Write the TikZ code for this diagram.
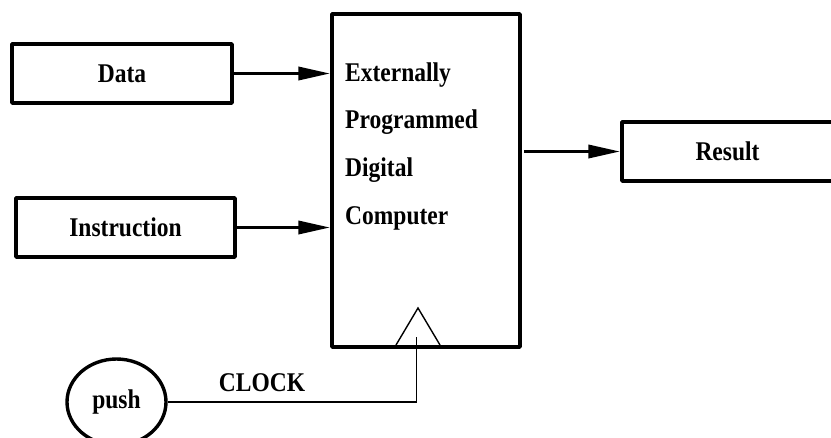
\documentclass[tikz,border=0pt]{standalone}
\usepackage{fontspec}
\setmainfont{Liberation Serif}
\usetikzlibrary{arrows.meta,shapes.geometric}
\newcommand{\tall}[1]{\scalebox{1}[1.15]{#1}}
\begin{document}
\begin{tikzpicture}[x=1pt,y=-1pt,
  box/.style={draw,line width=3.4pt,line join=round,rectangle,inner sep=0pt},
  lbl/.style={font=\fontsize{23.5}{28}\selectfont\bfseries,inner sep=0pt},
  bigarrow/.style={line width=3.6pt,-{Triangle[length=32pt,width=13pt]}},
  thin/.style={line width=1.4pt}]
\useasboundingbox (0,0) rectangle (831,437);
\node[box,minimum width=220pt,minimum height=59pt] (data) at (122,73.5) {};
\node[lbl] (datat) at (data.center) {\tall{Data}};
\node[box,minimum width=219pt,minimum height=59pt] (instr) at (125.5,227.5) {};
\node[lbl] (instrt) at (instr.center) {\tall{Instruction}};
\node[box,minimum width=188pt,minimum height=333pt] (main) at (426,180.5) {};
\node[box,minimum width=211pt,minimum height=59pt] (result) at (727.5,151.5) {};
\node[lbl] (resultt) at (result.center) {\tall{Result}};
\node[lbl,anchor=west] (t1) at (345,75) {\tall{Externally}};
\node[lbl,anchor=west] (t2) at (345,122) {\tall{Programmed}};
\node[lbl,anchor=west] (t3) at (345,170) {\tall{Digital}};
\node[lbl,anchor=west] (t4) at (345,218) {\tall{Computer}};
\draw[bigarrow] (data.east) -- (main.west |- data.east);
\draw[bigarrow] (instr.east) -- (main.west |- instr.east);
\draw[bigarrow] (524,151.5) coordinate (mout) -- (result.west);
% clock triangle
\coordinate (ta) at (418,308);
\coordinate (tl) at (396,345);
\coordinate (tr) at (440,345);
\draw[thin,line join=miter] (tl) -- (ta) -- (tr);
\node[draw,line width=3.4pt,ellipse,minimum width=99pt,minimum height=86pt,inner sep=0pt] (push) at (116.5,402) {};
\node[lbl] (pusht) at (push.center) {\tall{push}};
\coordinate (clk) at (416.5,337);
\draw[thin] (push.east) -| (clk);
\node[lbl] (clock) at (262,383) {\tall{CLOCK}};
\end{tikzpicture}
\end{document}
